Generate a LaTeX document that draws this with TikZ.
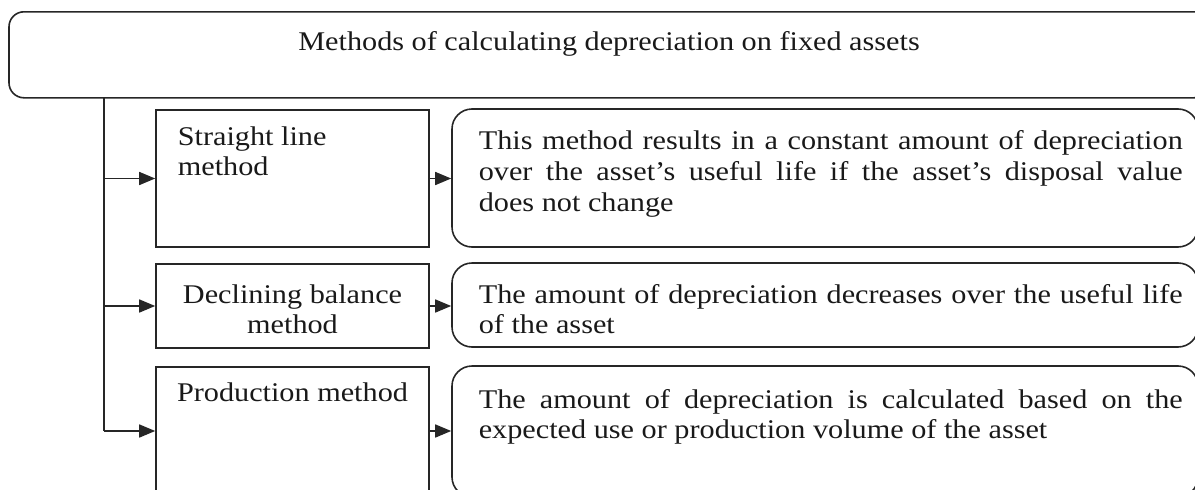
\documentclass[tikz,border=0pt]{standalone}
\usepackage{fontspec}
\setmainfont{Liberation Serif}[FakeStretch=1.12]
\usetikzlibrary{arrows.meta}
\hyphenpenalty=10000
\exhyphenpenalty=10000
\begin{document}
\begin{tikzpicture}[x=1pt,y=-1pt,
  line width=1.6pt,
  every node/.style={font=\fontsize{27}{30}\selectfont, inner sep=0pt, text=black!90},
  sq/.style={draw=black!85, rectangle, minimum width=273pt},
  rnd/.style={draw=black!85, rounded corners=20pt, minimum width=746pt},
  desc/.style={anchor=north west, text width=704pt, align=justify},
  conn/.style={draw=black!85},
  arr/.style={draw=black!85, -{Triangle[length=16pt,width=13pt]}}]
\useasboundingbox (0,0) rectangle (1195,490);
\clip (0,0) rectangle (1195,490);
% title
\node[draw=black!85, rounded corners=15pt, minimum width=1200pt,
      text height=39pt, text depth=47pt, anchor=north] (title) at (609,11)
      {Methods of calculating depreciation on fixed assets};
% method boxes
\node[sq, minimum height=137pt] (b1) at (292.5,178.5) {};
\node[sq, minimum height=84pt]  (b2) at (292.5,306) {};
\node[sq, minimum height=128pt] (b3) at (292.5,431) {};
% description boxes
\node[rnd, minimum height=138pt] (r1) at (825,178) {};
\node[rnd, minimum height=84pt]  (r2) at (825,305) {};
\node[rnd, minimum height=131pt] (r3) at (825,431.5) {};
% method texts
\node[anchor=north west, align=left] (t1) at (177,125.7) {Straight line\\method};
\node[anchor=north, align=center] (t2) at (292.5,283.7) {Declining balance\\method};
\node[anchor=base] (t3) at (292.5,401) {Production method};
% description texts
\node[desc, font=\fontsize{27}{31}\selectfont] (d1) at (478,129.7)
  {This method results in a constant amount of depreciation\linebreak over the asset’s useful life if the asset’s disposal value\linebreak does not change};
\node[desc] (d2) at (478,283.4)
  {The amount of depreciation decreases over the useful life\linebreak of the asset};
\node[desc] (d3) at (478,388.4)
  {The amount of depreciation is calculated based on the\linebreak expected use or production volume of the asset};
% connectors
\coordinate (trunk) at (104,97);
\draw[conn] (trunk) -- (trunk |- b3.west);
\draw[arr] (trunk |- b1.west) -- (b1.west);
\draw[arr] (trunk |- b2.west) -- (b2.west);
\draw[arr] (trunk |- b3.west) -- (b3.west);
\draw[arr] (b1.east) -- (b1.east -| r1.west);
\draw[arr] (b2.east) -- (b2.east -| r2.west);
\draw[arr] (b3.east) -- (b3.east -| r3.west);
\end{tikzpicture}
\end{document}
